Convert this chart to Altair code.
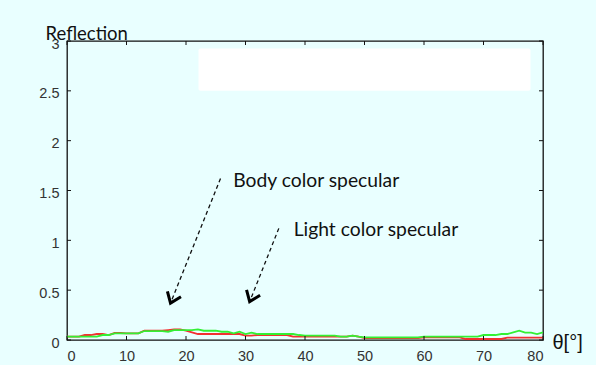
import altair as alt
import pandas as pd

# ---- data ----
DEG = list(range(0, 81))
GREEN = [0.033, 0.033, 0.033, 0.033, 0.033, 0.033, 0.05, 0.05, 0.067, 0.067,
         0.067, 0.067, 0.067, 0.09, 0.09, 0.09, 0.09, 0.083, 0.1, 0.1,
         0.1, 0.1, 0.107, 0.093, 0.093, 0.093, 0.083, 0.083, 0.067, 0.083,
         0.06, 0.073, 0.06, 0.06, 0.06, 0.06, 0.06, 0.06, 0.06, 0.05,
         0.043, 0.043, 0.043, 0.043, 0.043, 0.043, 0.033, 0.033, 0.043, 0.033,
         0.027, 0.027, 0.027, 0.027, 0.027, 0.027, 0.027, 0.027, 0.027, 0.027,
         0.033, 0.033, 0.033, 0.033, 0.033, 0.033, 0.033, 0.033, 0.033, 0.033,
         0.05, 0.05, 0.05, 0.06, 0.06, 0.077, 0.093, 0.073, 0.073, 0.06,
         0.077]
RED = [0.033, 0.033, 0.033, 0.05, 0.05, 0.06, 0.06, 0.05, 0.07, 0.07,
       0.067, 0.067, 0.067, 0.093, 0.093, 0.093, 0.093, 0.1, 0.107, 0.107,
       0.093, 0.077, 0.06, 0.06, 0.06, 0.06, 0.06, 0.06, 0.06, 0.06,
       0.043, 0.043, 0.05, 0.05, 0.05, 0.05, 0.05, 0.05, 0.033, 0.033,
       0.033, 0.033, 0.033, 0.033, 0.033, 0.033, 0.033, 0.033, 0.043, 0.033,
       0.02, 0.02, 0.02, 0.02, 0.02, 0.02, 0.02, 0.02, 0.02, 0.02,
       0.027, 0.027, 0.027, 0.027, 0.027, 0.027, 0.027, 0.01, 0.01, 0.01,
       0.01, 0.01, 0.01, 0.01, 0.023, 0.023, 0.023, 0.023, 0.023, 0.023,
       0.023]

X_TICKS = [0, 10, 20, 30, 40, 50, 60, 70, 80]
Y_TICKS = [0, 0.5, 1, 1.5, 2, 2.5, 3]

# white box (covered legend)
BOX_X = [22.1]
BOX_X2 = [77.9]
BOX_Y = [2.5]
BOX_Y2 = [2.926]

# annotations
ANN_TEXT = ["Body color specular", "Light color specular"]
ANN_TX = [27.95, 38.1]
ANN_TY = [1.535, 1.043]
ARR_X0 = [25.8, 35.6]
ARR_Y0 = [1.62, 1.12]
ARR_X1 = [17.4, 30.7]
ARR_Y1 = [0.37, 0.385]
ARR_ANGLE = [22, 22]

W, H = 476, 299

lines_df = pd.DataFrame({
    "deg": DEG * 2,
    "val": RED + GREEN,
    "series": ["red"] * len(DEG) + ["green"] * len(DEG),
    "order": [0] * len(DEG) + [1] * len(DEG),
})
xt = pd.DataFrame({"x": X_TICKS})
yt = pd.DataFrame({"y": Y_TICKS})
box = pd.DataFrame({"x": BOX_X, "x2": BOX_X2, "y": BOX_Y, "y2": BOX_Y2})
ann = pd.DataFrame({"t": ANN_TEXT, "x": ANN_TX, "y": ANN_TY})
arr = pd.DataFrame({"x0": ARR_X0, "y0": ARR_Y0, "x1": ARR_X1, "y1": ARR_Y1, "a": ARR_ANGLE})

xscale = alt.Scale(domain=[0, 80], nice=False, zero=False)
yscale = alt.Scale(domain=[0, 3], nice=False)

lab = dict(labelFont="Liberation Sans", labelFontSize=14.5, labelColor="#333333",
           ticks=False, domain=False, grid=False,
           titleFont="Liberation Sans", titleFontWeight="normal", titleColor="#111111")

xax = alt.Axis(values=X_TICKS, labelPadding=9, title="θ[°]", titleFontSize=20,
               titleAngle=0, titleAlign="left", titleBaseline="alphabetic",
               titleX=485, titleY=8, **lab)
yax = alt.Axis(values=Y_TICKS, format="~g", labelPadding=8, labelOffset=3,
               title="Reflection", titleFont="Lato", titleFontSize=18.5,
               titleFontWeight="normal", titleColor="#111111",
               titleAngle=0, titleAlign="left", titleBaseline="alphabetic",
               titleX=-22, titleY=-2,
               labelFont="Liberation Sans", labelFontSize=14.5, labelColor="#333333",
               ticks=False, domain=False, grid=False)

rect = alt.Chart(box).mark_rect(color="white", cornerRadius=2).encode(
    x=alt.X("x:Q", scale=xscale, axis=xax),
    x2="x2:Q",
    y=alt.Y("y:Q", scale=yscale, axis=yax),
    y2="y2:Q",
)

lines = alt.Chart(lines_df).mark_line(strokeWidth=1.8, clip=True).encode(
    x=alt.X("deg:Q", scale=xscale),
    y=alt.Y("val:Q", scale=yscale),
    color=alt.Color("series:N", scale=alt.Scale(domain=["red", "green"],
                                                range=["#F23030", "#33F033"]),
                    legend=None),
    order="order:Q",
    detail="series:N",
)

tick_style = dict(color="#111111", strokeWidth=1)
bt = alt.Chart(xt).mark_rule(**tick_style).encode(
    x=alt.X("x:Q", scale=xscale), y=alt.value(H), y2=alt.value(H - 4))
tt = alt.Chart(xt).mark_rule(**tick_style).encode(
    x=alt.X("x:Q", scale=xscale), y=alt.value(0), y2=alt.value(4))
lt = alt.Chart(yt).mark_rule(**tick_style).encode(
    y=alt.Y("y:Q", scale=yscale), x=alt.value(0), x2=alt.value(4))
rt = alt.Chart(yt).mark_rule(**tick_style).encode(
    y=alt.Y("y:Q", scale=yscale), x=alt.value(W), x2=alt.value(W - 4))

arrows = alt.Chart(arr).mark_rule(color="#111111", strokeWidth=1.3,
                                  strokeDash=[4, 3]).encode(
    x=alt.X("x0:Q", scale=xscale), y=alt.Y("y0:Q", scale=yscale),
    x2="x1:Q", y2="y1:Q")
heads = alt.Chart(arr).mark_point(
    shape="M-0.75,-1L0,0L0.75,-1", size=380, filled=False, strokeWidth=3,
    color="#000000", opacity=1, strokeJoin="miter").encode(
    x=alt.X("x1:Q", scale=xscale), y=alt.Y("y1:Q", scale=yscale),
    angle=alt.Angle("a:Q", scale=None))

texts = alt.Chart(ann).mark_text(font="Lato", fontSize=19.3, align="left",
                                 baseline="alphabetic", color="#111111").encode(
    x=alt.X("x:Q", scale=xscale), y=alt.Y("y:Q", scale=yscale), text="t:N")

chart = alt.layer(rect, lines, bt, tt, lt, rt, arrows, heads, texts).properties(
    width=W, height=H,
    autosize=alt.AutoSizeParams(type="none"),
    padding={"left": 67, "top": 41, "right": 53, "bottom": 25},
    background="#E9FFFF",
).configure_view(stroke="#111111", strokeWidth=1.3, fill="#E9FFFF")

chart.save("out.html", embed_options={"renderer": "svg", "actions": False})
